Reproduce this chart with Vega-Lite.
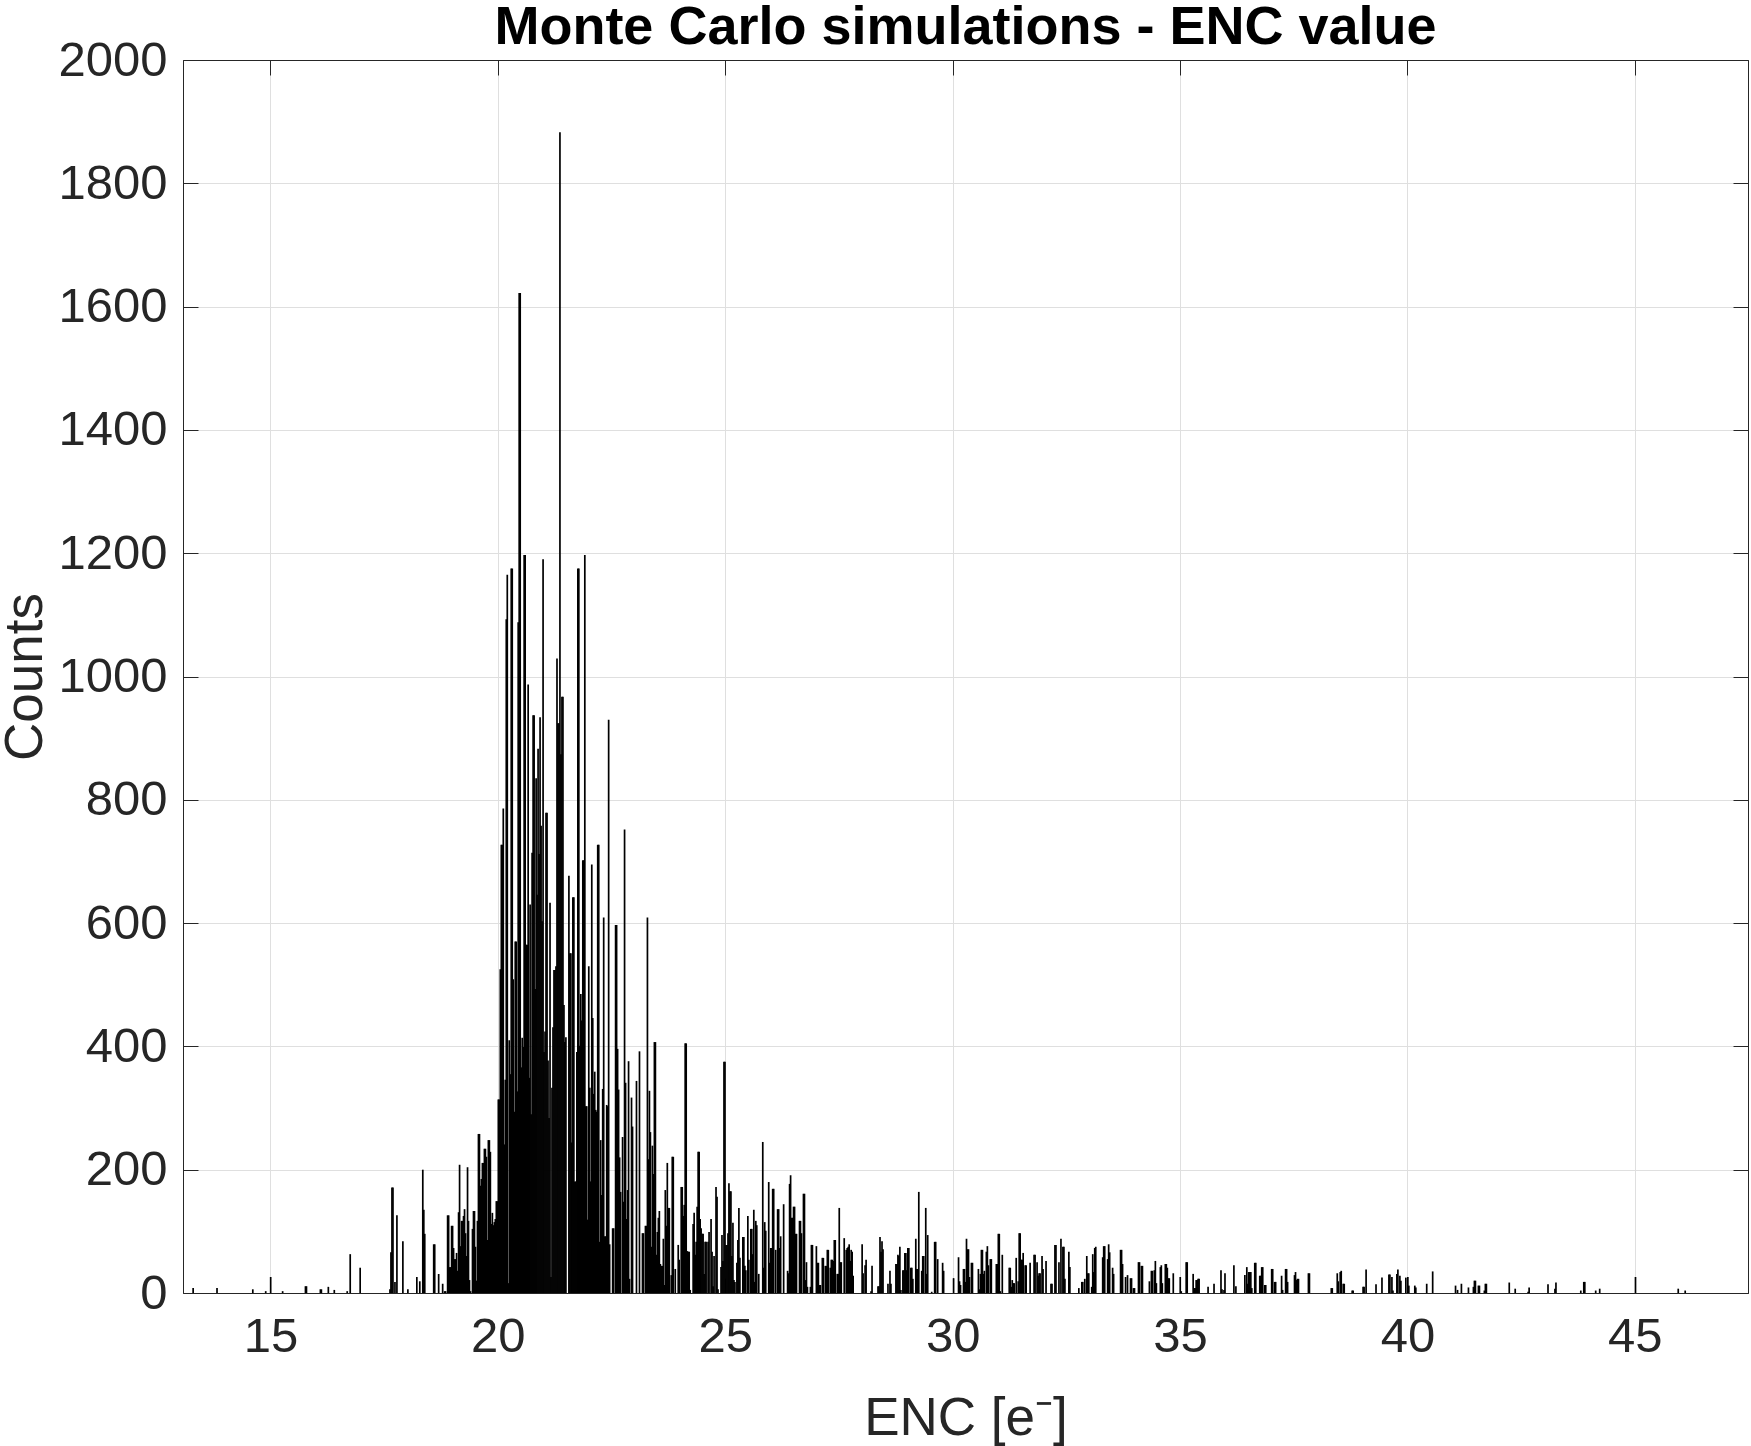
{
  "$schema": "https://vega.github.io/schema/vega-lite/v6.json",
  "width": 1565,
  "height": 1233,
  "autosize": {"type": "none"},
  "padding": {"left": 183, "top": 60, "right": 3, "bottom": 153},
  "background": "white",
  "title": {
    "text": "Monte Carlo simulations - ENC value",
    "font": "Liberation Sans",
    "fontSize": 54,
    "fontWeight": "bold",
    "color": "#000000",
    "anchor": "middle",
    "offset": 7,
    "dy": 26
  },
  "data": {
    "values": [
      {"e":13.299,"n":8},{"e":13.824,"n":8},{"e":14.611,"n":6},{"e":14.895,"n":3},{"e":15.004,"n":26},
      {"e":15.267,"n":3},{"e":15.769,"n":11},{"e":15.791,"n":11},{"e":16.097,"n":6},{"e":16.119,"n":6},
      {"e":16.272,"n":10},{"e":16.403,"n":5},{"e":16.687,"n":3},{"e":16.753,"n":63},{"e":16.972,"n":41},
      {"e":17.627,"n":6},{"e":17.649,"n":66},{"e":17.671,"n":171},{"e":17.693,"n":171},{"e":17.737,"n":18},
      {"e":17.780,"n":126},{"e":17.911,"n":84},{"e":18.021,"n":6},{"e":18.218,"n":26},{"e":18.283,"n":19},
      {"e":18.349,"n":200},{"e":18.371,"n":135},{"e":18.392,"n":96},{"e":18.589,"n":79},{"e":18.611,"n":79},
      {"e":18.698,"n":31},{"e":18.786,"n":15},{"e":18.830,"n":3},{"e":18.851,"n":3},{"e":18.895,"n":126},
      {"e":18.917,"n":126},{"e":18.939,"n":42},{"e":18.961,"n":42},{"e":18.983,"n":109},{"e":19.004,"n":109},
      {"e":19.026,"n":73},{"e":19.048,"n":55},{"e":19.070,"n":55},{"e":19.092,"n":65},{"e":19.114,"n":36},
      {"e":19.136,"n":131},{"e":19.158,"n":208},{"e":19.180,"n":76},{"e":19.201,"n":117},{"e":19.223,"n":117},
      {"e":19.245,"n":125},{"e":19.267,"n":136},{"e":19.289,"n":97},{"e":19.311,"n":60},{"e":19.333,"n":204},
      {"e":19.354,"n":117},{"e":19.376,"n":21},{"e":19.398,"n":3},{"e":19.442,"n":104},{"e":19.464,"n":133},
      {"e":19.486,"n":133},{"e":19.507,"n":75},{"e":19.529,"n":20},{"e":19.551,"n":117},{"e":19.573,"n":258},
      {"e":19.595,"n":258},{"e":19.617,"n":174},{"e":19.638,"n":185},{"e":19.660,"n":211},{"e":19.682,"n":211},
      {"e":19.704,"n":234},{"e":19.726,"n":234},{"e":19.748,"n":221},{"e":19.770,"n":86},{"e":19.791,"n":248},
      {"e":19.813,"n":248},{"e":19.835,"n":229},{"e":19.857,"n":112},{"e":19.879,"n":130},{"e":19.901,"n":110},
      {"e":19.923,"n":115},{"e":19.944,"n":120},{"e":19.966,"n":149},{"e":19.988,"n":149},
      {"e":20.010,"n":314},{"e":20.032,"n":314},{"e":20.054,"n":525},{"e":20.076,"n":727},{"e":20.097,"n":727},
      {"e":20.119,"n":786},{"e":20.141,"n":241},{"e":20.163,"n":346},{"e":20.185,"n":1093},{"e":20.207,"n":1165},
      {"e":20.229,"n":16},{"e":20.250,"n":410},{"e":20.272,"n":355},{"e":20.294,"n":1175},{"e":20.316,"n":1175},
      {"e":20.338,"n":509},{"e":20.360,"n":294},{"e":20.382,"n":570},{"e":20.403,"n":570},{"e":20.425,"n":327},
      {"e":20.447,"n":1088},{"e":20.469,"n":1622},{"e":20.491,"n":1622},{"e":20.513,"n":366},{"e":20.535,"n":414},
      {"e":20.556,"n":399},{"e":20.578,"n":1197},{"e":20.600,"n":1197},{"e":20.622,"n":565},{"e":20.644,"n":565},
      {"e":20.666,"n":987},{"e":20.688,"n":349},{"e":20.709,"n":630},{"e":20.731,"n":290},{"e":20.753,"n":714},
      {"e":20.775,"n":937},{"e":20.797,"n":937},{"e":20.819,"n":493},{"e":20.841,"n":835},{"e":20.862,"n":646},
      {"e":20.884,"n":883},{"e":20.906,"n":712},{"e":20.928,"n":934},{"e":20.950,"n":758},{"e":20.972,"n":603},
      {"e":20.994,"n":1190},{"e":21.015,"n":391},{"e":21.037,"n":424},{"e":21.059,"n":779},{"e":21.081,"n":779},
      {"e":21.103,"n":377},{"e":21.125,"n":284},{"e":21.147,"n":633},{"e":21.168,"n":26},{"e":21.190,"n":333},
      {"e":21.212,"n":431},{"e":21.234,"n":524},{"e":21.256,"n":524},{"e":21.278,"n":530},{"e":21.300,"n":1029},
      {"e":21.321,"n":924},{"e":21.343,"n":924},{"e":21.365,"n":1883},{"e":21.387,"n":874},{"e":21.409,"n":967},
      {"e":21.431,"n":967},{"e":21.453,"n":467},{"e":21.474,"n":407},{"e":21.496,"n":415},{"e":21.562,"n":677},
      {"e":21.584,"n":551},{"e":21.606,"n":551},{"e":21.627,"n":244},{"e":21.649,"n":642},{"e":21.671,"n":642},
      {"e":21.693,"n":181},{"e":21.715,"n":181},{"e":21.737,"n":391},{"e":21.759,"n":1175},{"e":21.780,"n":1175},
      {"e":21.802,"n":401},{"e":21.824,"n":485},{"e":21.846,"n":442},{"e":21.868,"n":702},{"e":21.890,"n":702},
      {"e":21.912,"n":1197},{"e":21.933,"n":303},{"e":21.955,"n":303},{"e":21.977,"n":119},{"e":21.999,"n":530},
      {"e":22.021,"n":333},{"e":22.043,"n":181},{"e":22.065,"n":695},{"e":22.086,"n":446},{"e":22.108,"n":323},
      {"e":22.130,"n":359},{"e":22.152,"n":297},{"e":22.174,"n":294},{"e":22.196,"n":727},{"e":22.218,"n":727},
      {"e":22.240,"n":83},{"e":22.261,"n":248},{"e":22.283,"n":159},{"e":22.305,"n":331},{"e":22.327,"n":609},
      {"e":22.349,"n":92},{"e":22.371,"n":92},{"e":22.393,"n":305},{"e":22.415,"n":303},{"e":22.436,"n":930},
      {"e":22.458,"n":79},{"e":22.524,"n":105},{"e":22.546,"n":105},{"e":22.589,"n":597},{"e":22.611,"n":597},
      {"e":22.633,"n":396},{"e":22.655,"n":330},{"e":22.677,"n":220},{"e":22.699,"n":164},{"e":22.742,"n":253},
      {"e":22.764,"n":148},{"e":22.786,"n":752},{"e":22.808,"n":341},{"e":22.830,"n":120},{"e":22.852,"n":167},
      {"e":22.874,"n":376},{"e":22.895,"n":23},{"e":22.939,"n":317},{"e":22.961,"n":270},{"e":23.048,"n":344},
      {"e":23.114,"n":392},{"e":23.180,"n":97},{"e":23.201,"n":97},{"e":23.245,"n":109},{"e":23.267,"n":109},
      {"e":23.289,"n":609},{"e":23.311,"n":217},{"e":23.333,"n":328},{"e":23.354,"n":261},{"e":23.376,"n":75},
      {"e":23.398,"n":239},{"e":23.420,"n":193},{"e":23.442,"n":407},{"e":23.464,"n":407},{"e":23.486,"n":62},
      {"e":23.507,"n":99},{"e":23.529,"n":122},{"e":23.551,"n":133},{"e":23.573,"n":47},{"e":23.595,"n":44},
      {"e":23.617,"n":44},{"e":23.639,"n":88},{"e":23.660,"n":13},{"e":23.682,"n":167},{"e":23.704,"n":109},
      {"e":23.726,"n":211},{"e":23.748,"n":138},{"e":23.770,"n":138},{"e":23.813,"n":29},{"e":23.835,"n":221},
      {"e":23.857,"n":221},{"e":23.901,"n":39},{"e":23.966,"n":78},{"e":23.988,"n":54},{"e":24.032,"n":172},
      {"e":24.054,"n":172},{"e":24.076,"n":125},{"e":24.098,"n":143},{"e":24.119,"n":405},{"e":24.141,"n":405},
      {"e":24.163,"n":68},{"e":24.185,"n":67},{"e":24.207,"n":67},{"e":24.229,"n":5},{"e":24.294,"n":112},
      {"e":24.316,"n":130},{"e":24.338,"n":62},{"e":24.360,"n":83},{"e":24.382,"n":140},{"e":24.404,"n":229},
      {"e":24.426,"n":229},{"e":24.448,"n":120},{"e":24.469,"n":105},{"e":24.491,"n":96},{"e":24.513,"n":96},
      {"e":24.535,"n":31},{"e":24.557,"n":83},{"e":24.579,"n":83},{"e":24.622,"n":83},{"e":24.644,"n":99},
      {"e":24.688,"n":120},{"e":24.710,"n":67},{"e":24.732,"n":11},{"e":24.754,"n":60},{"e":24.797,"n":172},
      {"e":24.819,"n":156},{"e":24.841,"n":6},{"e":24.907,"n":42},{"e":24.928,"n":94},{"e":24.950,"n":52},
      {"e":24.972,"n":375},{"e":24.994,"n":375},{"e":25.016,"n":78},{"e":25.038,"n":78},{"e":25.060,"n":97},
      {"e":25.081,"n":178},{"e":25.103,"n":165},{"e":25.125,"n":165},{"e":25.147,"n":60},{"e":25.169,"n":114},
      {"e":25.191,"n":21},{"e":25.213,"n":18},{"e":25.256,"n":49},{"e":25.278,"n":86},{"e":25.300,"n":138},
      {"e":25.322,"n":57},{"e":25.387,"n":91},{"e":25.409,"n":91},{"e":25.431,"n":44},{"e":25.453,"n":37},
      {"e":25.497,"n":125},{"e":25.519,"n":54},{"e":25.562,"n":104},{"e":25.584,"n":104},{"e":25.606,"n":63},
      {"e":25.628,"n":135},{"e":25.650,"n":18},{"e":25.672,"n":117},{"e":25.693,"n":110},{"e":25.737,"n":31},
      {"e":25.825,"n":245},{"e":25.846,"n":41},{"e":25.868,"n":115},{"e":25.890,"n":101},{"e":25.956,"n":180},
      {"e":25.978,"n":49},{"e":25.999,"n":73},{"e":26.021,"n":73},{"e":26.043,"n":169},{"e":26.065,"n":169},
      {"e":26.109,"n":70},{"e":26.152,"n":136},{"e":26.174,"n":136},{"e":26.196,"n":73},{"e":26.218,"n":92},
      {"e":26.284,"n":144},{"e":26.371,"n":36},{"e":26.393,"n":32},{"e":26.415,"n":177},{"e":26.437,"n":191},
      {"e":26.458,"n":122},{"e":26.480,"n":122},{"e":26.502,"n":140},{"e":26.524,"n":140},{"e":26.546,"n":96},
      {"e":26.567,"n":96},{"e":26.633,"n":117},{"e":26.654,"n":117},{"e":26.676,"n":97},{"e":26.720,"n":161},
      {"e":26.742,"n":161},{"e":26.764,"n":21},{"e":26.786,"n":50},{"e":26.807,"n":10},{"e":26.873,"n":10},
      {"e":26.895,"n":78},{"e":26.917,"n":78},{"e":27.004,"n":76},{"e":27.026,"n":49},{"e":27.048,"n":49},
      {"e":27.070,"n":13},{"e":27.092,"n":13},{"e":27.135,"n":57},{"e":27.157,"n":57},{"e":27.201,"n":44},
      {"e":27.223,"n":44},{"e":27.245,"n":70},{"e":27.266,"n":70},{"e":27.310,"n":41},{"e":27.332,"n":54},
      {"e":27.354,"n":54},{"e":27.376,"n":52},{"e":27.398,"n":86},{"e":27.419,"n":86},{"e":27.463,"n":31},
      {"e":27.485,"n":31},{"e":27.507,"n":138},{"e":27.529,"n":50},{"e":27.551,"n":50},{"e":27.616,"n":89},
      {"e":27.660,"n":70},{"e":27.682,"n":73},{"e":27.704,"n":75},{"e":27.725,"n":79},{"e":27.747,"n":52},
      {"e":27.769,"n":70},{"e":27.791,"n":67},{"e":27.813,"n":28},{"e":28.010,"n":79},{"e":28.031,"n":32},
      {"e":28.075,"n":45},{"e":28.097,"n":54},{"e":28.206,"n":3},{"e":28.228,"n":44},{"e":28.359,"n":11},
      {"e":28.381,"n":11},{"e":28.403,"n":91},{"e":28.425,"n":67},{"e":28.447,"n":84},{"e":28.469,"n":71},
      {"e":28.578,"n":15},{"e":28.622,"n":36},{"e":28.643,"n":15},{"e":28.753,"n":47},{"e":28.775,"n":47},
      {"e":28.797,"n":62},{"e":28.819,"n":60},{"e":28.840,"n":75},{"e":28.862,"n":5},{"e":28.906,"n":37},
      {"e":28.928,"n":37},{"e":28.950,"n":65},{"e":28.972,"n":65},{"e":28.993,"n":37},{"e":29.015,"n":73},
      {"e":29.037,"n":73},{"e":29.081,"n":41},{"e":29.103,"n":41},{"e":29.125,"n":23},{"e":29.190,"n":88},
      {"e":29.212,"n":39},{"e":29.234,"n":39},{"e":29.256,"n":164},{"e":29.321,"n":36},{"e":29.343,"n":60},
      {"e":29.365,"n":60},{"e":29.409,"n":138},{"e":29.431,"n":31},{"e":29.452,"n":94},{"e":29.540,"n":2},
      {"e":29.605,"n":83},{"e":29.627,"n":83},{"e":29.671,"n":55},{"e":29.780,"n":49},{"e":29.802,"n":36},
      {"e":30.021,"n":24},{"e":30.130,"n":58},{"e":30.152,"n":19},{"e":30.174,"n":13},{"e":30.239,"n":39},
      {"e":30.261,"n":39},{"e":30.283,"n":18},{"e":30.305,"n":88},{"e":30.327,"n":71},{"e":30.349,"n":71},
      {"e":30.370,"n":26},{"e":30.414,"n":49},{"e":30.436,"n":49},{"e":30.567,"n":39},{"e":30.589,"n":6},
      {"e":30.611,"n":31},{"e":30.633,"n":70},{"e":30.655,"n":70},{"e":30.676,"n":31},{"e":30.698,"n":36},
      {"e":30.742,"n":67},{"e":30.764,"n":76},{"e":30.786,"n":45},{"e":30.829,"n":55},{"e":30.851,"n":55},
      {"e":30.961,"n":47},{"e":30.983,"n":47},{"e":31.005,"n":96},{"e":31.026,"n":96},{"e":31.048,"n":3},
      {"e":31.092,"n":62},{"e":31.245,"n":41},{"e":31.267,"n":41},{"e":31.289,"n":10},{"e":31.311,"n":21},
      {"e":31.332,"n":16},{"e":31.354,"n":16},{"e":31.398,"n":57},{"e":31.442,"n":19},{"e":31.464,"n":97},
      {"e":31.485,"n":97},{"e":31.507,"n":54},{"e":31.529,"n":54},{"e":31.551,"n":65},{"e":31.595,"n":45},
      {"e":31.617,"n":45},{"e":31.704,"n":49},{"e":31.791,"n":62},{"e":31.813,"n":62},{"e":31.857,"n":50},
      {"e":31.879,"n":28},{"e":31.901,"n":32},{"e":31.923,"n":32},{"e":31.966,"n":60},{"e":31.988,"n":39},
      {"e":32.054,"n":52},{"e":32.163,"n":15},{"e":32.185,"n":15},{"e":32.250,"n":78},{"e":32.272,"n":78},
      {"e":32.338,"n":50},{"e":32.382,"n":88},{"e":32.425,"n":75},{"e":32.447,"n":75},{"e":32.469,"n":23},
      {"e":32.556,"n":67},{"e":32.578,"n":42},{"e":32.775,"n":8},{"e":32.841,"n":18},{"e":32.862,"n":18},
      {"e":32.906,"n":23},{"e":32.950,"n":60},{"e":32.972,"n":32},{"e":32.994,"n":32},{"e":33.059,"n":10},
      {"e":33.081,"n":63},{"e":33.103,"n":34},{"e":33.125,"n":73},{"e":33.147,"n":75},{"e":33.300,"n":58},
      {"e":33.322,"n":76},{"e":33.344,"n":76},{"e":33.409,"n":55},{"e":33.431,"n":79},{"e":33.453,"n":66},
      {"e":33.518,"n":41},{"e":33.540,"n":31},{"e":33.693,"n":70},{"e":33.715,"n":70},{"e":33.737,"n":47},
      {"e":33.803,"n":26},{"e":33.846,"n":29},{"e":33.912,"n":24},{"e":33.934,"n":24},{"e":33.977,"n":8},
      {"e":33.999,"n":8},{"e":34.087,"n":50},{"e":34.109,"n":50},{"e":34.152,"n":44},{"e":34.174,"n":44},
      {"e":34.327,"n":19},{"e":34.371,"n":36},{"e":34.393,"n":36},{"e":34.436,"n":37},{"e":34.458,"n":52},
      {"e":34.480,"n":16},{"e":34.568,"n":42},{"e":34.589,"n":45},{"e":34.611,"n":16},{"e":34.677,"n":47},
      {"e":34.699,"n":47},{"e":34.721,"n":41},{"e":34.742,"n":24},{"e":34.764,"n":24},{"e":34.852,"n":32},
      {"e":35.005,"n":26},{"e":35.027,"n":3},{"e":35.136,"n":50},{"e":35.158,"n":50},{"e":35.289,"n":31},
      {"e":35.311,"n":8},{"e":35.333,"n":8},{"e":35.355,"n":21},{"e":35.377,"n":21},{"e":35.398,"n":23},
      {"e":35.420,"n":23},{"e":35.617,"n":10},{"e":35.748,"n":15},{"e":35.901,"n":37},{"e":35.923,"n":6},
      {"e":35.967,"n":5},{"e":35.989,"n":32},{"e":36.185,"n":45},{"e":36.229,"n":11},{"e":36.426,"n":29},
      {"e":36.469,"n":42},{"e":36.491,"n":15},{"e":36.513,"n":34},{"e":36.535,"n":34},{"e":36.557,"n":34},
      {"e":36.579,"n":8},{"e":36.644,"n":49},{"e":36.666,"n":49},{"e":36.754,"n":28},{"e":36.775,"n":28},
      {"e":36.797,"n":42},{"e":36.819,"n":42},{"e":36.863,"n":13},{"e":36.885,"n":13},{"e":37.016,"n":39},
      {"e":37.038,"n":39},{"e":37.081,"n":18},{"e":37.103,"n":18},{"e":37.234,"n":28},{"e":37.256,"n":5},
      {"e":37.322,"n":39},{"e":37.344,"n":39},{"e":37.366,"n":18},{"e":37.518,"n":29},{"e":37.540,"n":34},
      {"e":37.562,"n":21},{"e":37.583,"n":23},{"e":37.605,"n":23},{"e":37.824,"n":32},{"e":37.846,"n":32},
      {"e":38.327,"n":8},{"e":38.348,"n":8},{"e":38.458,"n":32},{"e":38.480,"n":19},{"e":38.523,"n":34},
      {"e":38.545,"n":36},{"e":38.589,"n":15},{"e":38.611,"n":15},{"e":38.786,"n":4},{"e":38.807,"n":4},
      {"e":39.026,"n":10},{"e":39.048,"n":10},{"e":39.092,"n":38},{"e":39.310,"n":14},{"e":39.441,"n":25},
      {"e":39.594,"n":30},{"e":39.616,"n":30},{"e":39.660,"n":26},{"e":39.682,"n":4},{"e":39.769,"n":31},
      {"e":39.791,"n":38},{"e":39.835,"n":28},{"e":39.857,"n":20},{"e":39.966,"n":25},{"e":40.010,"n":26},
      {"e":40.032,"n":12},{"e":40.163,"n":12},{"e":40.185,"n":9},{"e":40.425,"n":15},{"e":40.556,"n":35},
      {"e":41.059,"n":12},{"e":41.103,"n":5},{"e":41.188,"n":15},{"e":41.343,"n":9},{"e":41.452,"n":10},
      {"e":41.474,"n":20},{"e":41.496,"n":20},{"e":41.562,"n":12},{"e":41.584,"n":12},{"e":41.693,"n":4},
      {"e":41.715,"n":15},{"e":41.737,"n":15},{"e":42.240,"n":17},{"e":42.371,"n":7},{"e":42.655,"n":2},
      {"e":42.677,"n":9},{"e":43.092,"n":14},{"e":43.245,"n":7},{"e":43.267,"n":17},{"e":43.813,"n":4},
      {"e":43.879,"n":18},{"e":43.901,"n":18},{"e":44.141,"n":4},{"e":44.229,"n":7},{"e":45.016,"n":26},
      {"e":45.956,"n":7},{"e":46.109,"n":4}
    ]
  },
  "layer": [
    {
      "mark": {"type": "bar", "color": "#000000", "width": 1.7},
      "encoding": {
        "x": {
          "field": "e",
          "type": "quantitative",
          "scale": {"domain": [13.186, 47.38], "nice": false, "zero": false},
          "axis": {
            "orient": "bottom",
            "values": [15, 20, 25, 30, 35, 40, 45],
            "grid": true,
            "title": "ENC [e⁻]",
            "labelPadding": 34,
            "titlePadding": 31
          }
        },
        "y": {
          "field": "n",
          "type": "quantitative",
          "scale": {"domain": [0, 2000], "nice": false},
          "axis": {
            "orient": "left",
            "values": [0, 200, 400, 600, 800, 1000, 1200, 1400, 1600, 1800, 2000],
            "format": "d",
            "grid": true,
            "title": "Counts",
            "labelPadding": 31,
            "titlePadding": 5
          }
        }
      }
    },
    {
      "mark": {"type": "bar", "opacity": 0, "width": 1},
      "encoding": {
        "x": {
          "field": "e",
          "type": "quantitative",
          "axis": {
            "orient": "top",
            "values": [15, 20, 25, 30, 35, 40, 45],
            "labels": false,
            "grid": false,
            "title": null
          }
        },
        "y": {
          "field": "n",
          "type": "quantitative",
          "axis": {
            "orient": "right",
            "values": [0, 200, 400, 600, 800, 1000, 1200, 1400, 1600, 1800, 2000],
            "labels": false,
            "grid": false,
            "title": null
          }
        }
      }
    }
  ],
  "resolve": {"axis": {"x": "independent", "y": "independent"}},
  "config": {
    "view": {"stroke": "#262626", "strokeWidth": 1},
    "axis": {
      "labelFont": "Liberation Sans",
      "titleFont": "Liberation Sans",
      "labelFontSize": 49,
      "titleFontSize": 53,
      "titleFontWeight": "normal",
      "labelColor": "#262626",
      "titleColor": "#262626",
      "domainColor": "#262626",
      "domainWidth": 1,
      "tickColor": "#262626",
      "tickWidth": 1,
      "tickSize": -15,
      "gridColor": "#dfdfdf",
      "gridWidth": 1,
      "labelFlush": false,
      "labelOverlap": false
    }
  }
}
